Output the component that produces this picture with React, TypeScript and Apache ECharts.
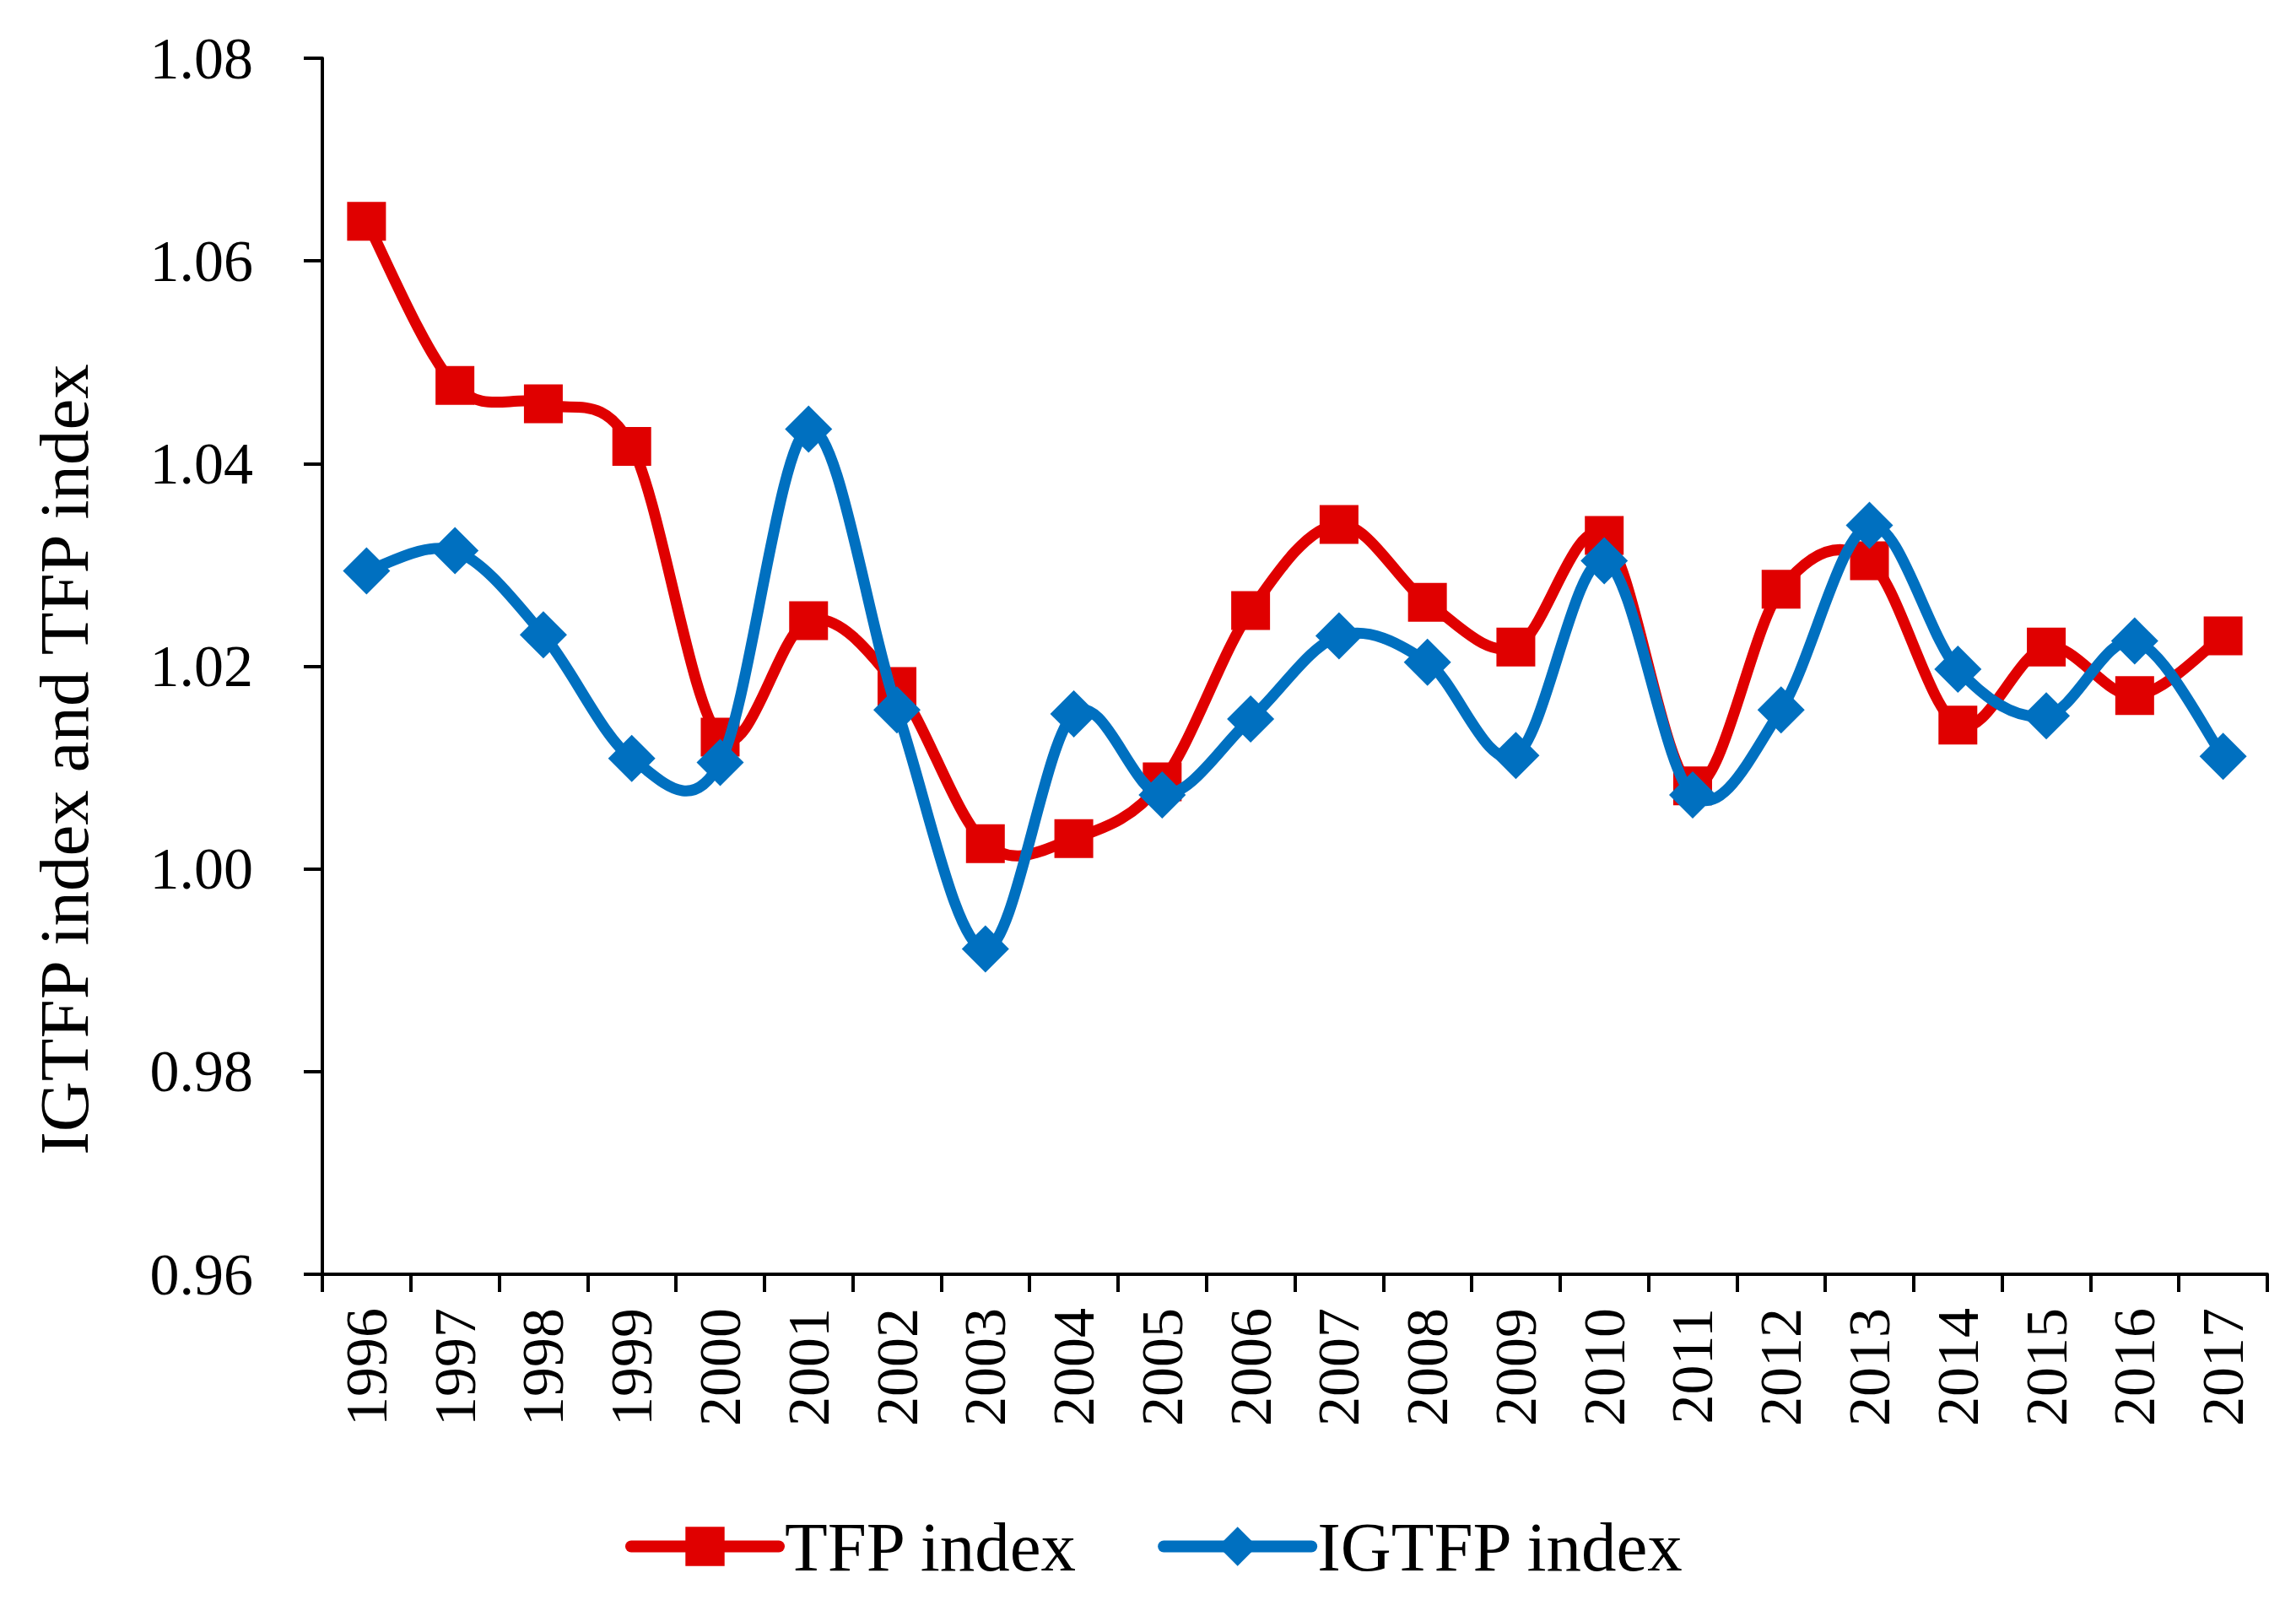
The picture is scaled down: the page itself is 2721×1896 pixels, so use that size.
import React, { useEffect, useRef } from 'react';
import * as echarts from 'echarts';

const years = ['1996', '1997', '1998', '1999', '2000', '2001', '2002', '2003', '2004', '2005', '2006', '2007', '2008', '2009', '2010', '2011', '2012', '2013', '2014', '2015', '2016', '2017'];
const tfpIndex = [1.0639, 1.0477, 1.0459, 1.0417, 1.0130, 1.0245, 1.0180, 1.0025, 1.0030, 1.0086, 1.0255, 1.0340, 1.0263, 1.0219, 1.0329, 1.0082, 1.0276, 1.0304, 1.0142, 1.0219, 1.0171, 1.0230];
const igtfpIndex = [1.0294, 1.0314, 1.0231, 1.0109, 1.0105, 1.0434, 1.0157, 0.9921, 1.0153, 1.0073, 1.0148, 1.0230, 1.0204, 1.0112, 1.0304, 1.0073, 1.0157, 1.0339, 1.0197, 1.0151, 1.0225, 1.0111];
const yTicks = { min: 0.96, max: 1.08, interval: 0.02 };
const seriesNames = ['TFP index', 'IGTFP index'];
const axisTitle = 'IGTFP index and TFP index';

const FONT = '"Liberation Serif", "Times New Roman", serif';
const RED = '#E00000';
const BLUE = '#0070C0';

// Excel-like smoothed curve (Catmull-Rom bezier), drawn segment by segment through the axes' scales
function smoothCurve(values: number[], color: string, name: string, z: number) {
  return {
    name,
    type: 'custom',
    z,
    data: values.map((v, i) => [i, v]),
    encode: { x: 0, y: 1 },
    silent: true,
    renderItem: (params: any, api: any) => {
      const i = params.dataIndex;
      const n = values.length;
      if (i >= n - 1) return null;
      const c = (j: number) => {
        const k = Math.max(0, Math.min(n - 1, j));
        return api.coord([k, values[k]]);
      };
      const p0 = c(i - 1);
      const p1 = c(i);
      const p2 = c(i + 1);
      const p3 = c(i + 2);
      return {
        type: 'bezierCurve',
        shape: {
          x1: p1[0],
          y1: p1[1],
          x2: p2[0],
          y2: p2[1],
          cpx1: p1[0] + (p2[0] - p0[0]) / 6,
          cpy1: p1[1] + (p2[1] - p0[1]) / 6,
          cpx2: p2[0] - (p3[0] - p1[0]) / 6,
          cpy2: p2[1] - (p3[1] - p1[1]) / 6,
        },
        style: { stroke: color, lineWidth: 13, fill: null, lineCap: 'round' },
      };
    },
  };
}

export default function App() {
  const ref = useRef<HTMLDivElement>(null);
  useEffect(() => {
    document.body.style.margin = '0';
    const chart = echarts.init(ref.current!, null, { renderer: 'svg' });
    chart.setOption({
      animation: false,
      backgroundColor: '#ffffff',
      textStyle: { fontFamily: FONT },
      grid: { left: 382, right: 34, top: 69, bottom: 386, containLabel: false },
      legend: {
        left: 736,
        top: 1786,
        itemWidth: 175,
        itemHeight: 58,
        itemGap: 94,
        data: [
          { name: seriesNames[0], lineStyle: { color: RED, width: 14, opacity: 1, cap: 'round' }, itemStyle: { color: RED } },
          { name: seriesNames[1], lineStyle: { color: BLUE, width: 14, opacity: 1, cap: 'round' }, itemStyle: { color: BLUE } },
        ],
        textStyle: { fontSize: 83, fontFamily: FONT, color: '#000', lineHeight: 58, padding: [0, 0, 0, 2] },
      },
      xAxis: {
        type: 'category',
        data: years,
        boundaryGap: true,
        axisLine: { onZero: false, lineStyle: { color: '#000', width: 4 } },
        axisTick: { show: true, length: 21, alignWithLabel: false, lineStyle: { color: '#000', width: 4 } },
        axisLabel: { rotate: 90, margin: 40, fontSize: 70, fontFamily: FONT, color: '#000', interval: 0 },
        splitLine: { show: false },
      },
      yAxis: {
        type: 'value',
        min: yTicks.min,
        max: yTicks.max,
        interval: yTicks.interval,
        axisLine: { show: true, lineStyle: { color: '#000', width: 4 } },
        axisTick: { show: true, length: 22, lineStyle: { color: '#000', width: 4 } },
        axisLabel: { margin: 82, fontSize: 70, fontFamily: FONT, color: '#000', formatter: (v: number) => v.toFixed(2) },
        splitLine: { show: false },
      },
      graphic: [
        {
          type: 'text',
          x: 76,
          y: 900,
          rotation: Math.PI / 2,
          style: {
            text: axisTitle,
            fontSize: 83,
            fontFamily: FONT,
            fill: '#000',
            align: 'center',
            verticalAlign: 'middle',
          },
        },
      ],
      series: [
        smoothCurve(tfpIndex, RED, 'TFP curve', 2),
        {
          name: seriesNames[0],
          type: 'line',
          data: tfpIndex,
          symbol: 'rect',
          symbolSize: 46,
          showSymbol: true,
          lineStyle: { color: RED, width: 13, opacity: 0 },
          itemStyle: { color: RED },
          z: 3,
        },
        smoothCurve(igtfpIndex, BLUE, 'IGTFP curve', 4),
        {
          name: seriesNames[1],
          type: 'line',
          data: igtfpIndex,
          symbol: 'diamond',
          symbolSize: 56,
          showSymbol: true,
          lineStyle: { color: BLUE, width: 13, opacity: 0 },
          itemStyle: { color: BLUE },
          z: 5,
        },
      ],
    });
    return () => chart.dispose();
  }, []);
  return <div ref={ref} style={{ width: 2721, height: 1896, background: '#fff' }} />;
}
